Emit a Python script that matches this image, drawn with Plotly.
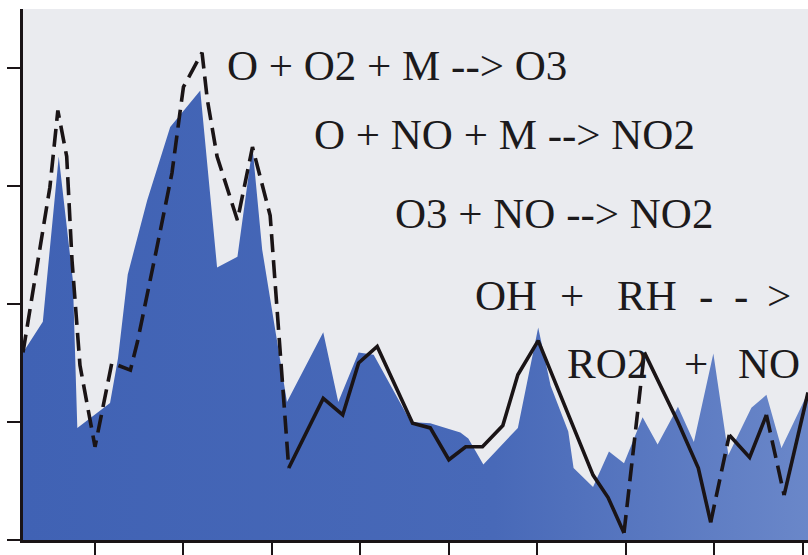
import plotly.graph_objects as go

# Blue filled area (x in tick units, y in tick units)
area_x = [0.186, 0.41, 0.59, 0.75, 0.80, 1.17, 1.26, 1.37, 1.59, 1.85, 2.19, 2.38, 2.61, 2.78,
          2.89, 3.17, 3.58, 3.75, 3.98, 4.15, 4.57, 4.79, 5.13, 5.22, 5.39, 5.78, 6.01, 6.15,
          6.35, 6.41, 6.63, 6.81, 6.98, 7.19, 7.36, 7.59, 7.77, 7.99, 8.16, 8.42, 8.59, 8.76, 9.06]
area_y = [1.59, 1.85, 3.25, 2.20, 0.95, 1.16, 1.54, 2.25, 2.88, 3.50, 3.81, 2.31, 2.40, 3.33,
          2.46, 1.17, 1.76, 1.17, 1.59, 1.57, 1.00, 0.99, 0.91, 0.86, 0.64, 0.95, 1.80, 1.31,
          0.92, 0.61, 0.45, 0.75, 0.65, 1.04, 0.81, 1.13, 0.83, 1.58, 0.72, 1.12, 1.23, 0.78, 1.25]

# Black curve
line_x = [0.186, 0.34, 0.49, 0.58, 0.68, 0.74, 0.83, 1.00, 1.19, 1.40, 1.48, 1.70, 1.87, 1.96,
          2.00, 2.21, 2.27, 2.38, 2.61, 2.78, 2.98, 3.19, 3.58, 3.80, 3.98, 4.19, 4.59, 4.79,
          5.00, 5.19, 5.38, 5.61, 5.78, 6.01, 6.35, 6.63, 6.80, 6.98, 7.21, 7.59, 7.82, 7.96,
          8.17, 8.40, 8.59, 8.79, 9.06]
line_y = [1.59, 2.31, 2.99, 3.64, 3.25, 2.37, 1.48, 0.79, 1.50, 1.44, 1.68, 2.48, 3.11, 3.62,
          3.84, 4.13, 3.73, 3.25, 2.71, 3.33, 2.75, 0.61, 1.20, 1.06, 1.50, 1.64, 0.99, 0.95,
          0.68, 0.79, 0.79, 0.97, 1.40, 1.69, 1.06, 0.55, 0.36, 0.06, 1.59, 1.00, 0.61, 0.15,
          0.89, 0.70, 1.06, 0.38, 1.25]

# Segments of the curve (start index, end index, dashed?)
segments = [(0, 21, True), (21, 37, False), (37, 38, True), (38, 41, False),
            (41, 42, True), (42, 44, False), (44, 45, True), (45, 46, False)]

x_ticks = [1, 2, 3, 4, 5, 6, 7, 8, 9]
y_ticks = [0, 1, 2, 3, 4]

fig = go.Figure()
fig.add_trace(go.Scatter(
    x=area_x, y=area_y, mode="lines", fill="tozeroy",
    line=dict(width=0, color="rgba(0,0,0,0)"),
    fillgradient=dict(type="horizontal",
                      colorscale=[[0, "#4062b4"], [0.6, "#4869b8"], [1, "#6a87c9"]]),
    hoverinfo="skip", showlegend=False))

for s, e, dashed in segments:
    fig.add_trace(go.Scatter(
        x=line_x[s:e + 1], y=line_y[s:e + 1], mode="lines",
        line=dict(color="#1a1416", width=3.6,
                  dash="18px,8px" if dashed else "solid"),
        showlegend=False, hoverinfo="skip"))

font = dict(family="Liberation Serif, Times New Roman, serif", size=43, color="#1c1a1c")
labels = [
    ("O + O2 + M --> O3", 2.47, 4.02),
    ("O + NO + M --> NO2", 3.45, 3.44),
    ("O3 + NO --> NO2", 4.37, 2.77),
    ("OH", 5.27, 2.07),
    ("+", 6.23, 2.07),
    ("RH", 6.88, 2.07),
    ("-", 7.81, 2.07),
    ("-", 8.20, 2.07),
    (">", 8.57, 2.07),
    ("RO2", 6.31, 1.50),
    ("+", 7.63, 1.50),
    ("NO", 8.25, 1.50),
]
for txt, x, y in labels:
    fig.add_annotation(x=x, y=y, xref="x", yref="y", text=txt, showarrow=False,
                       xanchor="left", yanchor="middle", font=font)

fig.update_layout(
    width=808, height=555,
    margin=dict(l=23, r=0, t=9, b=15),
    paper_bgcolor="white", plot_bgcolor="#eaebef",
    xaxis=dict(range=[0.186, 9.06], tickvals=x_ticks, showticklabels=False,
               ticks="outside", ticklen=15, tickwidth=2, tickcolor="#1a1416",
               showline=True, linecolor="#1a1416", linewidth=2.5,
               showgrid=False, zeroline=False),
    yaxis=dict(range=[0, 4.5], tickvals=y_ticks, showticklabels=False,
               ticks="outside", ticklen=13, tickwidth=2, tickcolor="#1a1416",
               showline=True, linecolor="#1a1416", linewidth=2.5,
               showgrid=False, zeroline=False),
)

fig.write_html("out.html")
